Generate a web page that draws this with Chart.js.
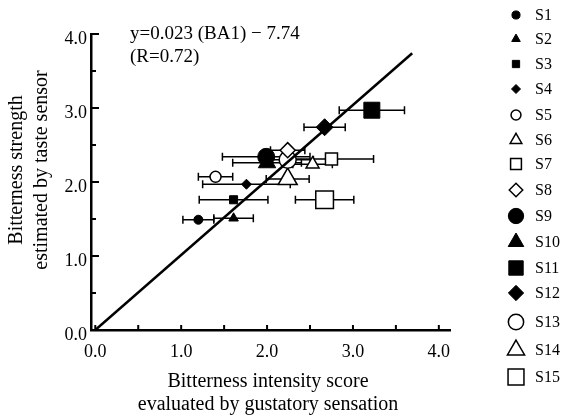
<!DOCTYPE html>
<html>
<head>
<meta charset="utf-8">
<script src="https://cdn.jsdelivr.net/npm/chart.js@4.4.1/dist/chart.umd.min.js"></script>
<style>
  html, body { margin: 0; padding: 0; background: #fff; }
  #wrap { width: 562px; height: 420px; }
</style>
</head>
<body>
<div id="wrap"><canvas id="chart"></canvas></div>
<script>
// ---- data ----
const samples = ["S1", "S2", "S3", "S4", "S5", "S6", "S7", "S8", "S9", "S10", "S11", "S12", "S13", "S14", "S15"];
const gustatoryScore = [1.20, 1.61, 1.61, 1.76, 1.40, 2.53, 2.75, 2.24, 1.99, 2.00, 3.22, 2.67, 2.24, 2.24, 2.67];
const sensorStrength = [1.49, 1.51, 1.76, 1.97, 2.07, 2.24, 2.31, 2.43, 2.34, 2.26, 2.97, 2.74, 2.30, 2.04, 1.76];
const scoreError = [0.18, 0.23, 0.40, 0.51, 0.20, 0.23, 0.49, 0.20, 0.51, 0.40, 0.38, 0.24, 0.30, 0.25, 0.34];
const fitLine = [{ x: 0, y: 0 }, { x: 3.69, y: 3.74 }];
const xTicks = [0, 0.5, 1, 1.5, 2, 2.5, 3, 3.5, 4];
const yTicks = [0, 0.5, 1, 1.5, 2, 2.5, 3, 3.5, 4];

// marker look per sample
const shapes = ["circle", "triangle", "rect", "rectRot", "circle", "triangle", "rect", "rectRot",
                "circle", "triangle", "rect", "rectRot", "circle", "triangle", "rect"];
const radii = [4.5, 5.5, 5.7, 5, 5.5, 7.5, 8.5, 7.5, 8.5, 10, 11.3, 8.5, 8.5, 11, 12.5];
const filled = [true, true, true, true, false, false, false, false, true, true, true, true, false, false, false];
const legendRowY = [15, 39, 64, 89, 115, 140, 164, 190, 216, 242, 268, 293, 322, 350, 377];

const serif = "'Liberation Serif', 'DejaVu Serif', serif";

const datasets = [{
  type: "line",
  data: fitLine,
  borderColor: "#000",
  borderWidth: 2.5,
  pointRadius: 0,
  fill: false
}];
samples.forEach((s, i) => {
  datasets.push({
    label: s,
    data: [{ x: gustatoryScore[i], y: sensorStrength[i] }],
    pointStyle: shapes[i],
    pointRadius: radii[i],
    pointHoverRadius: radii[i],
    backgroundColor: filled[i] ? "#000" : "#fff",
    borderColor: "#000",
    borderWidth: filled[i] ? 1 : 1.5
  });
});

// horizontal error bars under the markers
const errorBars = {
  id: "errorBars",
  beforeDatasetsDraw(chart) {
    const ctx = chart.ctx, xs = chart.scales.x, ys = chart.scales.y;
    ctx.save();
    ctx.strokeStyle = "#000";
    ctx.lineWidth = 1.5;
    samples.forEach((s, i) => {
      const y = ys.getPixelForValue(sensorStrength[i]);
      const x1 = xs.getPixelForValue(gustatoryScore[i] - scoreError[i]);
      const x2 = xs.getPixelForValue(gustatoryScore[i] + scoreError[i]);
      ctx.beginPath();
      ctx.moveTo(x1, y); ctx.lineTo(x2, y);
      ctx.moveTo(x1, y - 4); ctx.lineTo(x1, y + 4);
      ctx.moveTo(x2, y - 4); ctx.lineTo(x2, y + 4);
      ctx.stroke();
    });
    ctx.restore();
  }
};

// inward tick marks, titles, equation and the side key
const decorations = {
  id: "decorations",
  afterDraw(chart) {
    const ctx = chart.ctx, xs = chart.scales.x, ys = chart.scales.y;
    const area = chart.chartArea;
    ctx.save();
    ctx.strokeStyle = "#000";
    ctx.lineWidth = 2;
    ctx.beginPath();
    xTicks.forEach(v => {
      const x = xs.getPixelForValue(v);
      ctx.moveTo(x, area.bottom); ctx.lineTo(x, area.bottom - 5);
    });
    yTicks.forEach(v => {
      const y = ys.getPixelForValue(v);
      const len = Number.isInteger(v) ? 8 : 5;
      ctx.moveTo(area.left, y); ctx.lineTo(area.left + len, y);
    });
    ctx.stroke();

    ctx.fillStyle = "#000";
    ctx.textBaseline = "middle";

    // x title
    ctx.font = "20px " + serif;
    ctx.textAlign = "center";
    ctx.fillText("Bitterness intensity score", 268, 382);
    ctx.fillText("evaluated by gustatory sensation", 268, 405);

    // y title
    ctx.save();
    ctx.translate(0, 170);
    ctx.rotate(-Math.PI / 2);
    ctx.fillText("Bitterness strength", 0, 17);
    ctx.fillText("estimated by taste sensor", 0, 42);
    ctx.restore();

    // equation
    ctx.font = "19px " + serif;
    ctx.textAlign = "left";
    ctx.fillText("y=0.023 (BA1) \u2212 7.74", 130, 34);
    ctx.fillText("(R=0.72)", 130, 57);

    // key
    ctx.font = "16px " + serif;
    samples.forEach((s, i) => {
      const y = legendRowY[i];
      ctx.fillStyle = filled[i] ? "#000" : "#fff";
      ctx.strokeStyle = "#000";
      ctx.lineWidth = filled[i] ? 1 : 1.5;
      Chart.helpers.drawPoint(ctx, { pointStyle: shapes[i], radius: radii[i] * 0.9, borderWidth: ctx.lineWidth, rotation: 0 }, 516, y);
      ctx.fillStyle = "#000";
      ctx.fillText(s, 535, y + 1);
    });
    ctx.restore();
  }
};

new Chart(document.getElementById("chart"), {
  type: "scatter",
  data: { datasets: datasets },
  options: {
    responsive: true,
    maintainAspectRatio: false,
    animation: false,
    layout: { padding: { left: 0, top: 34, right: 112, bottom: 0 } },
    plugins: { legend: { display: false }, tooltip: { enabled: false } },
    scales: {
      x: {
        type: "linear",
        min: -0.05,
        max: 4.13,
        afterBuildTicks: s => { s.ticks = xTicks.map(v => ({ value: v })); },
        afterFit: s => { s.height = 90; },
        grid: { display: false, drawTicks: false },
        border: { display: true, color: "#000", width: 2.5 },
        ticks: {
          autoSkip: false,
          maxRotation: 0,
          padding: 11,
          color: "#000",
          font: { family: serif, size: 18 },
          callback: v => Number.isInteger(v) ? v.toFixed(1) : ""
        }
      },
      y: {
        type: "linear",
        min: 0,
        max: 4,
        afterBuildTicks: s => { s.ticks = yTicks.map(v => ({ value: v })); },
        afterFit: s => { s.width = 91; },
        grid: { display: false, drawTicks: false },
        border: { display: true, color: "#000", width: 2.5 },
        ticks: {
          autoSkip: false,
          padding: 4,
          labelOffset: 5,
          color: "#000",
          font: { family: serif, size: 18 },
          callback: v => Number.isInteger(v) ? v.toFixed(1) : ""
        }
      }
    }
  },
  plugins: [errorBars, decorations]
});
</script>
</body>
</html>
